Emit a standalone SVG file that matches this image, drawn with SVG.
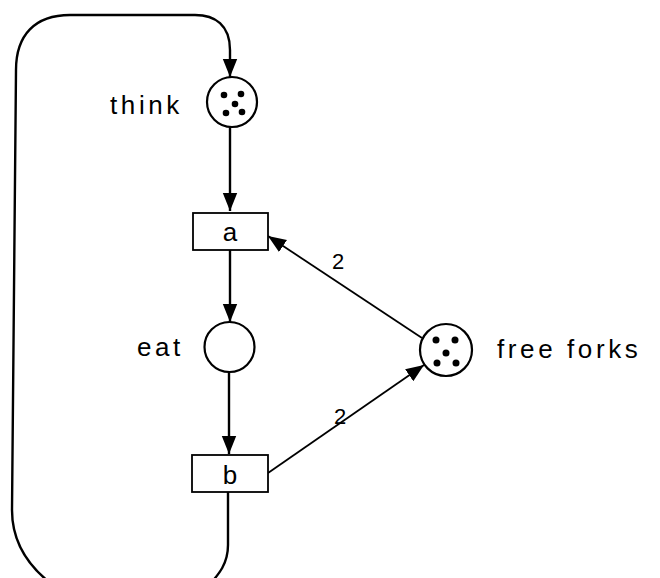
<svg xmlns="http://www.w3.org/2000/svg" width="660" height="578" viewBox="0 0 660 578">
<style>
.arc{fill:none;stroke:#000;stroke-width:2.4}
.thin{fill:none;stroke:#000;stroke-width:1.8}
.place{fill:#fff;stroke:#000;stroke-width:2.2}
.trans{fill:#fff;stroke:#000;stroke-width:1.8}
.tok{fill:#000}
.lbl{font-family:"Liberation Sans","DejaVu Sans",sans-serif;font-size:26px;fill:#000;letter-spacing:3.6px}
.num{font-family:"Liberation Sans","DejaVu Sans",sans-serif;font-size:22px;fill:#000}
</style>
<defs>
<marker id="ah" viewBox="0 0 10 10" refX="10" refY="5" markerWidth="18" markerHeight="18" markerUnits="userSpaceOnUse" orient="auto">
<path d="M0,1 L10,5 L0,9 Z" fill="#000"/>
</marker>
</defs>
<rect width="660" height="578" fill="#fff"/>
<g id="connectors">
<path class="arc" d="M228,492 V545 C228,565 218,575 205,590 L60,590 C30,570 12,545 12,510 L16,70 C16,35 35,15 70,15 L195,15 C215,15 230,25 230,50 L230,77" marker-end="url(#ah)"/>
<path class="arc" d="M230,127 V211" marker-end="url(#ah)"/>
<path class="arc" d="M230,250 V322" marker-end="url(#ah)"/>
<path class="arc" d="M229,372 V454" marker-end="url(#ah)"/>
<path class="thin" d="M422,338 L268,236" marker-end="url(#ah)"/>
<path class="thin" d="M268,473 L424,365" marker-end="url(#ah)"/>
<text class="num" x="338" y="269" text-anchor="middle">2</text>
<text class="num" x="340" y="424" text-anchor="middle">2</text>
</g>
<g id="think">
<circle class="place" cx="232" cy="102" r="25"/>
<circle class="tok" cx="224" cy="95" r="3.3"/>
<circle class="tok" cx="241" cy="94" r="3.3"/>
<circle class="tok" cx="235" cy="104" r="3.3"/>
<circle class="tok" cx="226" cy="113" r="3.3"/>
<circle class="tok" cx="242" cy="112" r="3.3"/>
<text class="lbl" x="110" y="114">think</text>
</g>
<g id="a">
<rect class="trans" x="193" y="213" width="75" height="37"/>
<text class="lbl" x="230" y="241" text-anchor="middle" style="letter-spacing:0">a</text>
</g>
<g id="eat">
<circle class="place" cx="229.5" cy="347" r="25"/>
<text class="lbl" x="137" y="356">eat</text>
</g>
<g id="b">
<rect class="trans" x="192" y="455" width="76" height="37"/>
<text class="lbl" x="230" y="484" text-anchor="middle" style="letter-spacing:0">b</text>
</g>
<g id="free_forks">
<circle class="place" cx="446" cy="350" r="26"/>
<circle class="tok" cx="436" cy="340" r="3.5"/>
<circle class="tok" cx="455" cy="340" r="3.5"/>
<circle class="tok" cx="446" cy="353" r="3.5"/>
<circle class="tok" cx="437" cy="363" r="3.5"/>
<circle class="tok" cx="456" cy="363" r="3.5"/>
<text class="lbl" x="497" y="358">free forks</text>
</g>
</svg>
